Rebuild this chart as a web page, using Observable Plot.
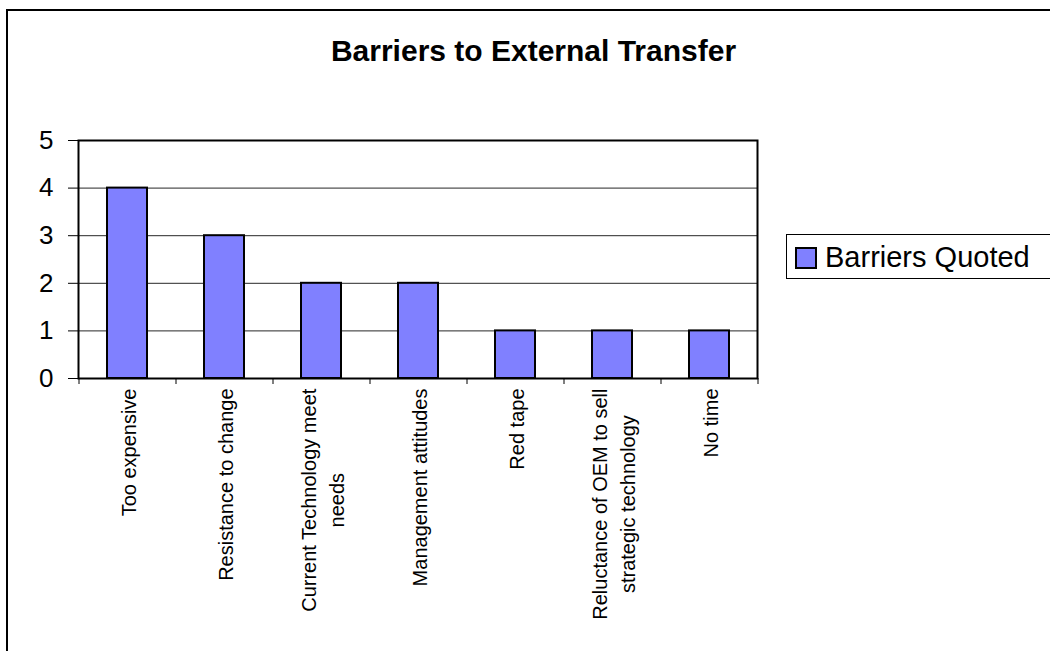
<!DOCTYPE html>
<html><head><meta charset="utf-8">
<script src="https://cdn.jsdelivr.net/npm/d3@7"></script>
<script src="https://cdn.jsdelivr.net/npm/@observablehq/plot@0.6"></script>
<style>
body{margin:0;background:#fff;overflow:hidden;font-family:"Liberation Sans",Arial,sans-serif;}
#wrap{position:relative;width:1050px;height:651px;overflow:hidden;background:#fff;}
#chart{position:absolute;left:0;top:0;}
#border{position:absolute;left:6px;top:9px;width:1100px;height:700px;border:2px solid #000;}
#title{position:absolute;left:0;top:36px;width:1067px;text-align:center;font-weight:bold;font-size:30px;line-height:30px;color:#000;}
#legend{position:absolute;left:786px;top:234px;width:300px;height:43px;border:1px solid #000;background:#fff;}
#swatch{position:absolute;left:8px;top:12px;width:18px;height:18px;border:2px solid #000;background:#8080ff;}
#ltext{position:absolute;left:38px;top:8px;font-size:29px;line-height:29px;white-space:nowrap;color:#000;}
</style>
</head><body>
<div id="wrap">
  <div id="chart"></div>
  <div id="border"></div>
  <div id="title"></div>
  <div id="legend"><div id="swatch"></div><div id="ltext"></div></div>
</div>
<script>
const chartTitle = "Barriers to External Transfer";
const seriesName = "Barriers Quoted";
const categories = ["Too expensive","Resistance to change","Current Technology meet needs","Management attitudes","Red tape","Reluctance of OEM to sell strategic technology","No time"];
const values = [4,3,2,2,1,1,1];
const tickLabels = ["Too expensive","Resistance to change","Current Technology meet\nneeds","Management attitudes","Red tape","Reluctance of OEM to sell\nstrategic technology","No time"];
const yTicks = [0,1,2,3,4,5];

document.getElementById("title").textContent = chartTitle;
document.getElementById("ltext").textContent = seriesName;

const W = 1050, H = 651, mL = 78, mT = 140, mR = 293, mB = 273;
const step = (W - mL - mR) / categories.length;
const data = categories.map((c, i) => ({category: c, value: values[i]}));

const ctx = document.createElement("canvas").getContext("2d");
ctx.font = "20px 'Liberation Sans'";
const labelMarks = categories.map((c, i) => {
  const lines = tickLabels[i].split("\n");
  const w = Math.max(...lines.map(l => ctx.measureText(l).width));
  return Plot.text([c], {
    x: d => d, text: () => tickLabels[i], frameAnchor: "bottom",
    rotate: -90, textAnchor: "middle", lineAnchor: "middle", lineHeight: 1.4,
    fontSize: 20, dy: 10 + w / 2, fill: "#000"
  });
});

const chart = Plot.plot({
  width: W, height: H,
  marginLeft: mL, marginTop: mT, marginRight: mR, marginBottom: mB,
  style: {fontFamily: "'Liberation Sans', Arial, sans-serif", background: "transparent", color: "#000"},
  x: {domain: categories, type: "band", paddingInner: 0.588, paddingOuter: 0.294, align: 0.5, axis: null},
  y: {domain: [0, 5], axis: null},
  marks: [
    Plot.gridY(yTicks.filter(v => v > 0 && v < 5), {stroke: "#000", strokeOpacity: 0.85, strokeWidth: 1}),
    Plot.barY(data, {x: "category", y: "value", fill: "#8080ff", stroke: "#000", strokeWidth: 2}),
    Plot.frame({stroke: "#000", strokeWidth: 2}),
    Plot.axisY({ticks: yTicks, tickFormat: d3.format("d"), tickSize: 10, tickPadding: 15, fontSize: 26, label: null, stroke: "#000"}),
    Plot.axisX({ticks: categories, tickSize: 6, dx: -step / 2, tickFormat: () => "", label: null, stroke: "#000"}),
    Plot.axisX({ticks: [categories[categories.length - 1]], tickSize: 6, dx: step / 2, tickFormat: () => "", label: null, stroke: "#000"}),
    ...labelMarks
  ]
});
document.getElementById("chart").appendChild(chart);
</script>
</body></html>
